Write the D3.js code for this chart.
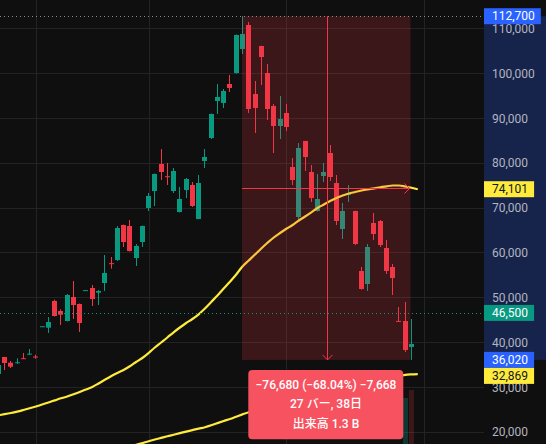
<!DOCTYPE html>
<html><head><meta charset="utf-8">
<script src="https://cdn.jsdelivr.net/npm/d3@7"></script>
<style>
html,body{margin:0;padding:0;background:#0f0f0f;overflow:hidden}
svg{display:block}
text{font-family:Roboto,"Noto Sans CJK JP",sans-serif}
</style></head>
<body><svg id="chart" width="546" height="444"></svg>
<script>
// ---- data ----
const opens  = [32875,36667,35396,35450,36400,37380,36760,43500,43204,49161,46930,44699,50053,48492,51550,52061,51012,53177,57600,58308,66116,65893,58754,62324,69909,73702,79726,77000,73702,69017,73925,75040,67455,80395,85526,93781,93335,97574,100028,105382,110736,95343,106051,100028,92665,88203,91104,79056,67901,84857,77941,69240,77048,82180,75487,65224,72809,69240,55854,52954,66563,67009,60985,56746,44720,44699,38898];
const highs  = [35000,36700,35775,36377,37560,38452,37180,43540,45591,49451,47309,50723,53623,48600,51600,52730,51615,59423,58977,65893,66200,67232,61878,66000,73256,77600,83072,79949,78833,74594,76602,75710,77271,83072,91000,97574,96458,99581,108600,112700,111406,98243,106100,102036,93112,94896,93112,81064,84411,84900,79502,77495,79949,83964,77271,71025,75040,69300,56746,61878,68794,67232,62770,57416,47822,48938,45145];
const lows   = [32800,33767,34213,35106,36221,37113,36288,43490,42022,45700,43806,44600,45145,42245,51540,48045,48268,51392,56367,58085,61208,60200,56969,61208,69240,70355,76156,75040,73256,68900,72140,70132,67400,78833,85303,90881,92219,95789,99900,104267,91104,86642,97350,89542,82180,85303,87088,75040,67455,78164,71248,69100,75710,75933,66116,62993,71248,61654,51700,51392,62770,61208,55185,50499,44476,37783,36020];
const closes = [34882,35329,34503,35500,36350,37420,36710,43530,44476,45814,46104,50499,48268,44253,51590,49607,51392,55408,57540,65447,62324,60316,61431,65893,72586,77495,77941,76950,78164,71917,76379,70355,75487,81287,90881,94673,96012,96681,108505,108729,91996,92219,103597,91996,88203,89765,87980,76156,83295,81287,72140,71917,77941,76825,67009,69240,73256,61878,51838,61208,64109,61654,55854,54292,44680,38229,39568];
// moving averages (index 0..67, one bar past the last candle)
const ma1 = [23661,23906,24174,24485,24843,25222,25624,26070,26516,26985,27453,27855,28346,28859,29417,29974,30755,31581,32384,33098,33767,34592,35552,36444,37560,38787,39903,41018,42178,43249,44253,45145,46194,47488,48938,50388,51950,53467,55073,56858,58196,59535,60874,62145,63328,64332,65269,66116,67120,68013,68950,69909,70690,71471,72140,72698,73144,73479,73813,74081,74304,74527,74750,74929,74929,74706,74416,74101];
const ma2Start = 21;
const ma2 = [16678,17057,17458,17882,18262,18618,18975,19332,19689,20024,20359,20693,21006,21430,21920,22389,22835,23348,23861,24352,24709,25044,25378,25713,26048,26382,26717,27052,27386,27743,28078,28413,28747,29082,29439,29774,30108,30443,30777,31200,31550,31900,32200,32480,32680,32790,32869];
const volIdx = [65, 66];
const volumes = [0.46e9, 0.54e9];
const volUp = [true, false];
const yTicks = [20000,30000,40000,50000,60000,70000,80000,90000,100000,110000];
const gridBars = [6, 24, 46, 68];
const rangeStart = 39, rangeEnd = 66;
const rangeHigh = 112700, rangeLow = 36020;
const currentPrice = 46500;
const ma1Last = 74101, ma2Last = 32869;
const tipLines = ["\u221276,680 (\u221268.04%) \u22127,668", "27 バー, 38日", "出来高 1.3 B"];

// ---- setup ----
const W = 546, H = 444, axisX = 484;
const svg = d3.select("#chart");
const x = d3.scaleLinear().domain([0, 66]).range([-1.66, 411.5]);
const y = d3.scaleLinear().domain([20000, 110000]).range([431.7, 28.3]);
const vy = d3.scaleLinear().domain([0, 1e9]).range([H, H - 100]);
const UP = "#089981", DN = "#f23645";

svg.append("rect").attr("width", W).attr("height", H).attr("fill", "#0f0f0f");

const plot = svg.append("g");
plot.append("defs").append("clipPath").attr("id","pc").append("rect").attr("width", axisX).attr("height", H);
const pg = plot.append("g").attr("clip-path","url(#pc)");

// grid
pg.selectAll(".hg").data(yTicks).join("line")
  .attr("x1", 0).attr("x2", axisX)
  .attr("y1", d => Math.round(y(d)) + 0.5).attr("y2", d => Math.round(y(d)) + 0.5)
  .attr("stroke", "#232323").attr("stroke-width", 1);
pg.selectAll(".vg").data(gridBars).join("line")
  .attr("x1", d => Math.round(x(d)) + 0.5).attr("x2", d => Math.round(x(d)) + 0.5)
  .attr("y1", 0).attr("y2", H)
  .attr("stroke", "#232323").attr("stroke-width", 1);

// volumes
pg.selectAll(".vol").data(volIdx).join("rect")
  .attr("x", d => Math.round(x(d) - 2.5)).attr("width", 5)
  .attr("y", (d, k) => vy(volumes[k])).attr("height", (d, k) => H - vy(volumes[k]))
  .attr("fill", (d, k) => volUp[k] ? "rgba(8,153,129,0.3)" : "rgba(242,54,69,0.2)");

// candles
const idx = d3.range(opens.length);
const cg = pg.append("g");
cg.selectAll(".wick").data(idx).join("line")
  .attr("x1", i => Math.floor(x(i)) + 0.5).attr("x2", i => Math.floor(x(i)) + 0.5)
  .attr("y1", i => y(highs[i])).attr("y2", i => y(lows[i]))
  .attr("stroke", i => closes[i] >= opens[i] ? UP : DN).attr("stroke-width", 1);
cg.selectAll(".body").data(idx).join("rect")
  .attr("x", i => Math.round(x(i) - 2.5)).attr("width", 5)
  .attr("y", i => y(Math.max(opens[i], closes[i])))
  .attr("height", i => Math.max(1, Math.abs(y(opens[i]) - y(closes[i]))))
  .attr("fill", i => closes[i] >= opens[i] ? UP : DN);

// moving averages
const line = d3.line().curve(d3.curveMonotoneX);
pg.append("path")
  .attr("d", line(ma1.map((v, i) => [x(i), y(v)])))
  .attr("fill", "none").attr("stroke", "#ffeb3b").attr("stroke-width", 2.2);
pg.append("path")
  .attr("d", line(ma2.map((v, k) => [x(ma2Start + k), y(v)])))
  .attr("fill", "none").attr("stroke", "#ffeb3b").attr("stroke-width", 2.2);

// range overlay
const bx0 = x(rangeStart) - 0.5, bx1 = x(rangeEnd) - 1;
const by0 = y(rangeHigh), by1 = y(rangeLow);
pg.append("rect").attr("x", bx0).attr("y", by0).attr("width", bx1 - bx0).attr("height", by1 - by0)
  .attr("fill", "rgba(242,54,69,0.2)");

// dotted price lines
pg.append("line").attr("x1", 0).attr("x2", axisX).attr("y1", Math.round(y(rangeHigh)) + 0.5).attr("y2", Math.round(y(rangeHigh)) + 0.5)
  .attr("stroke", "#8a8d96").attr("stroke-dasharray", "1 3");
pg.append("line").attr("x1", 0).attr("x2", axisX).attr("y1", Math.round(y(currentPrice)) + 0.5).attr("y2", Math.round(y(currentPrice)) + 0.5)
  .attr("stroke", UP).attr("stroke-dasharray", "1 3");

// range cross lines
const midX = Math.round((x(rangeStart) + x(rangeEnd)) / 2) + 0.5;
const midY = Math.round(y((rangeHigh + rangeLow) / 2)) + 0.5;
pg.append("line").attr("x1", midX).attr("x2", midX).attr("y1", by0).attr("y2", by1).attr("stroke", DN);
pg.append("path").attr("d", `M${midX - 5},${by1 - 5}L${midX},${by1}L${midX + 5},${by1 - 5}`)
  .attr("fill", "none").attr("stroke", DN).attr("stroke-width", 1);
pg.append("line").attr("x1", bx0).attr("x2", bx1).attr("y1", midY).attr("y2", midY).attr("stroke", DN);
pg.append("path").attr("d", `M${bx1 - 6},${midY - 5}L${bx1 - 1},${midY}L${bx1 - 6},${midY + 5}`)
  .attr("fill", "none").attr("stroke", DN).attr("stroke-width", 1);

// axis range highlight
svg.append("rect").attr("x", axisX).attr("y", by0).attr("width", W - axisX).attr("height", by1 - by0)
  .attr("fill", "#16234b");

// y axis
const ax = svg.append("g").attr("transform", `translate(${axisX},0)`)
  .call(d3.axisRight(y).tickValues(yTicks).tickFormat(d3.format(",")).tickSize(0).tickPadding(8));
ax.select(".domain").remove();
ax.selectAll("text").attr("fill", "#b2b5be").attr("font-size", 12).attr("font-family", "Roboto,sans-serif").attr("dy", "0.35em");

// price labels
const labels = [
  {v: rangeHigh, bg: "#2962ff", fg: "#ffffff"},
  {v: ma1Last, bg: "#ffeb3b", fg: "#131722"},
  {v: currentPrice, bg: UP, fg: "#ffffff"},
  {v: rangeLow, bg: "#2962ff", fg: "#ffffff"},
  {v: ma2Last, bg: "#ffeb3b", fg: "#131722"}
];
let prevBottom = -Infinity;
labels.forEach(l => {
  let cy = y(l.v);
  if (cy - 8 < prevBottom) cy = prevBottom + 8;
  prevBottom = cy + 8;
  const g = svg.append("g");
  const t = g.append("text").attr("x", axisX + 8).attr("y", cy).attr("dy", "0.35em")
    .attr("font-size", 12).attr("fill", l.fg).text(d3.format(",")(l.v));
  const w = t.node().getComputedTextLength();
  g.insert("rect", "text").attr("x", axisX).attr("y", cy - 8).attr("width", w + 14).attr("height", 16)
    .attr("fill", l.bg);
});

// tooltip
const tg = svg.append("g");
tg.append("rect").attr("x", 248.3).attr("y", 370).attr("width", 155).attr("height", 69.3).attr("rx", 4)
  .attr("fill", "#f7525f");
tg.selectAll("text").data(tipLines).join("text")
  .attr("x", 326).attr("y", (d, i) => 385 + i * 19.2).attr("dy", "0.35em")
  .attr("text-anchor", "middle").attr("font-size", 12).attr("font-weight", 500).attr("fill", "#ffffff")
  .text(d => d);
</script>
</body></html>
